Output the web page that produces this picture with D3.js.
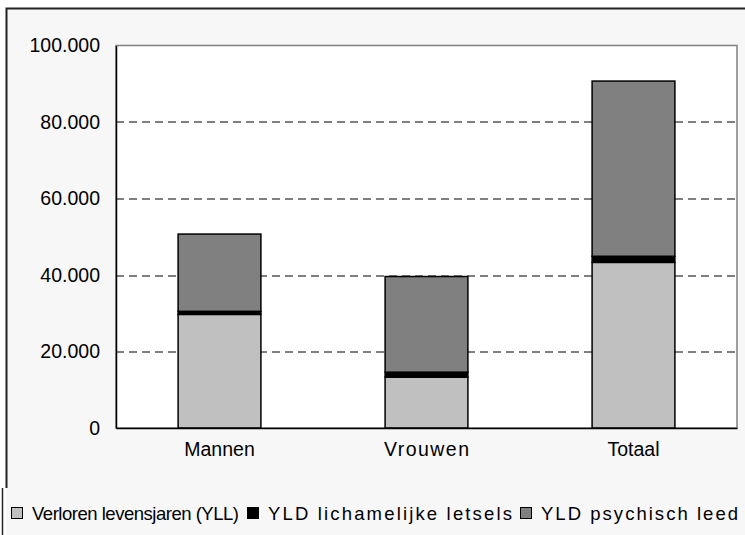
<!DOCTYPE html>
<html>
<head>
<meta charset="utf-8">
<script src="https://cdn.jsdelivr.net/npm/d3@7"></script>
<style>
  body { margin: 0; background: #fff; }
  svg { display: block; font-family: "Liberation Sans", Arial, sans-serif; }
</style>
</head>
<body>
<svg id="chart" width="745" height="535"></svg>
<script>
// data (values in years)
const categories = ["Mannen", "Vrouwen", "Totaal"];
const seriesNames = ["Verloren levensjaren (YLL)", "YLD lichamelijke letsels", "YLD psychisch leed"];
const yll = [29700, 13300, 43300];
const yldLichamelijk = [800, 1300, 1600];
const yldPsychisch = [20200, 25000, 45800];
const yTicks = [0, 20000, 40000, 60000, 80000, 100000];
const colors = ["#c0c0c0", "#000000", "#808080"];

const svg = d3.select("#chart");

// outer chart frame (cut off at right and bottom)
svg.append("rect")
  .attr("x", 6).attr("y", 8)
  .attr("width", 745).attr("height", 535)
  .attr("fill", "#f7f7f7");
svg.append("path")
  .attr("d", "M6.5,488 V8.5 H745")
  .attr("fill", "none")
  .attr("stroke", "#222").attr("stroke-width", 2);

const margin = { top: 45.5, right: 8, bottom: 107, left: 116 };
const width = 745 - margin.left - margin.right;
const height = 535 - margin.top - margin.bottom;

const g = svg.append("g").attr("transform", `translate(${margin.left},${margin.top})`);

const rows = categories.map((c, i) => ({ cat: c, s0: yll[i], s1: yldLichamelijk[i], s2: yldPsychisch[i] }));
const stack = d3.stack().keys(["s0", "s1", "s2"])(rows);

const x = d3.scaleBand().domain(categories).range([0, width]).paddingInner(0.6).paddingOuter(0.3);
const y = d3.scaleLinear().domain([0, 100000]).range([height, 0]);

// plot area
g.append("rect")
  .attr("width", width).attr("height", height)
  .attr("fill", "#fff")
  .attr("stroke", "#808080").attr("stroke-width", 1.5);

// gridlines
g.append("g")
  .selectAll("line")
  .data(yTicks.filter(t => t > 0 && t < 100000))
  .join("line")
  .attr("x1", 0).attr("x2", width)
  .attr("y1", d => Math.round(y(d)) + 0.5).attr("y2", d => Math.round(y(d)) + 0.5)
  .attr("stroke", "#000")
  .attr("stroke-dasharray", "8,5");

// bars
g.append("g")
  .selectAll("g")
  .data(stack)
  .join("g")
  .attr("fill", (d, i) => colors[i])
  .selectAll("rect")
  .data(d => d)
  .join("rect")
  .attr("x", d => x(d.data.cat))
  .attr("y", d => y(d[1]))
  .attr("width", x.bandwidth())
  .attr("height", d => y(d[0]) - y(d[1]))
  .attr("stroke", "#000")
  .attr("stroke-width", 1.5);

// axes
const yAxis = g.append("g")
  .call(d3.axisLeft(y).tickValues(yTicks).tickSize(0).tickPadding(16)
    .tickFormat(d => d3.format(",")(d).replace(/,/g, ".")));
yAxis.select(".domain").attr("stroke", "#000").attr("stroke-width", 1.5);
yAxis.selectAll("text").attr("font-size", 19.5).attr("fill", "#000")
  .attr("font-family", "Liberation Sans, Arial, sans-serif");

const xAxis = g.append("g")
  .attr("transform", `translate(0,${height})`)
  .call(d3.axisBottom(x).tickSize(0).tickPadding(14));
xAxis.select(".domain").attr("stroke", "#000").attr("stroke-width", 1.5);
xAxis.selectAll("text").attr("font-size", 19.5).attr("fill", "#000")
  .attr("font-family", "Liberation Sans, Arial, sans-serif")
  .filter(d => d === "Vrouwen")
  .attr("textLength", 85).attr("lengthAdjust", "spacing");

// legend
const legend = svg.append("g");
legend.append("line")
  .attr("x1", 2.5).attr("x2", 2.5)
  .attr("y1", 488).attr("y2", 535)
  .attr("stroke", "#222").attr("stroke-width", 1.5);

const legendX = [11, 247, 520];
const legendLen = [207, 244, 197];
seriesNames.forEach((name, i) => {
  legend.append("rect")
    .attr("x", legendX[i] + 0.5).attr("y", 507.5)
    .attr("width", 11).attr("height", 11)
    .attr("fill", colors[i])
    .attr("stroke", "#000").attr("stroke-width", 1);
  legend.append("text")
    .attr("x", legendX[i] + 21)
    .attr("y", 520)
    .attr("font-size", 18.5)
    .attr("textLength", legendLen[i])
    .attr("lengthAdjust", "spacing")
    .text(name);
});
</script>
</body>
</html>
